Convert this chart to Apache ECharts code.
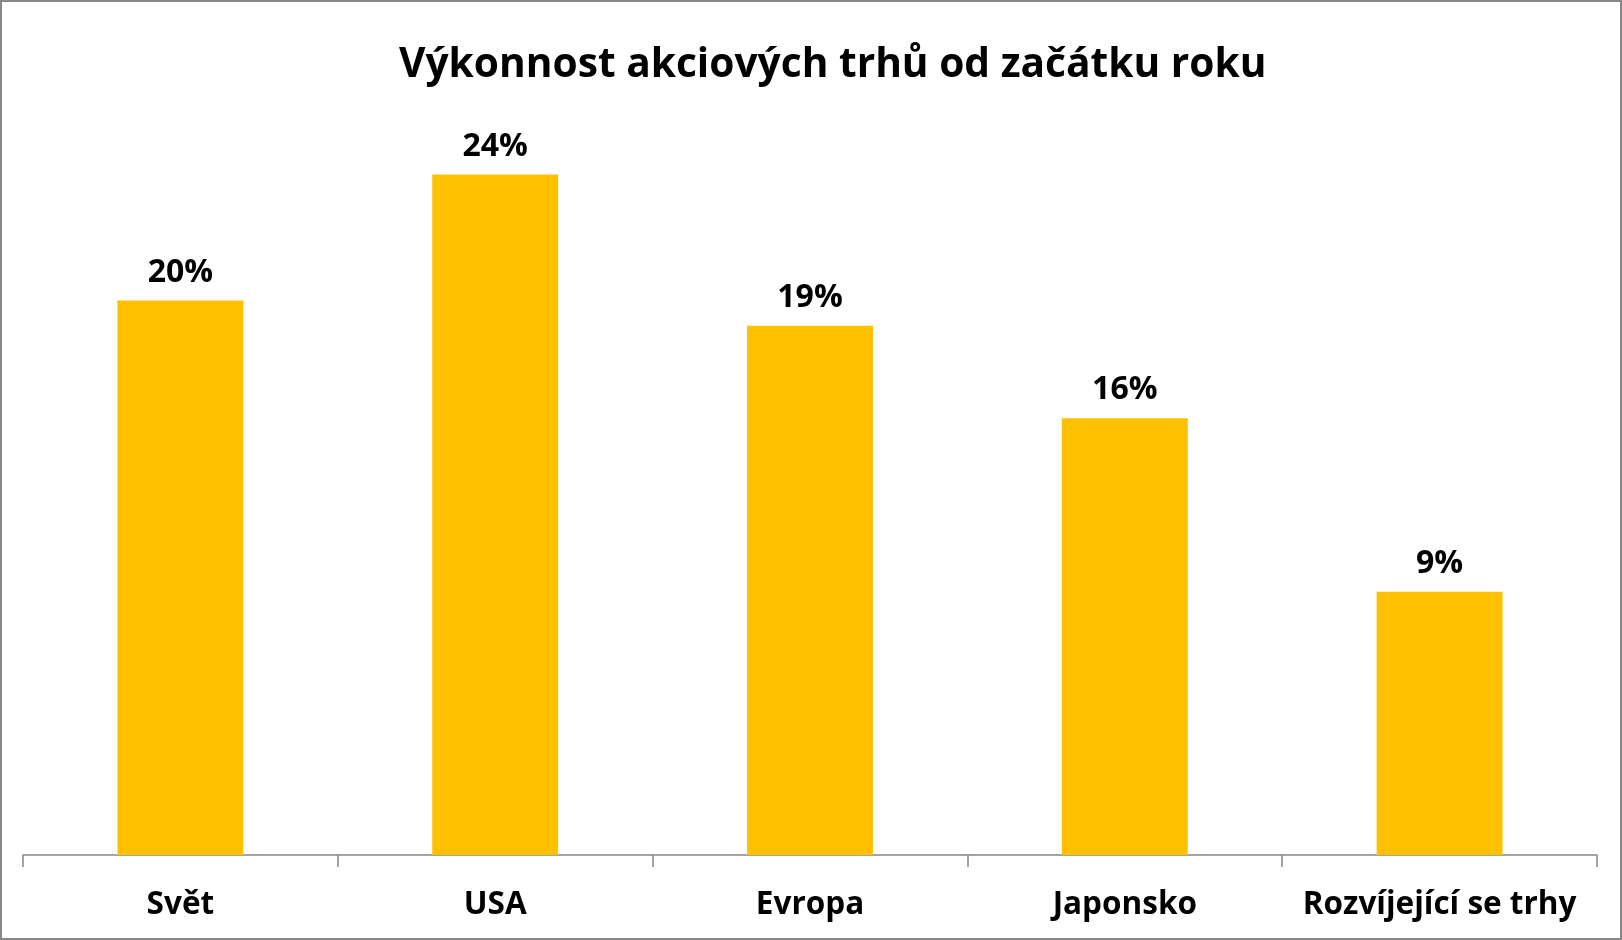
<!DOCTYPE html>
<html>
<head>
<meta charset="utf-8">
<script src="https://cdn.jsdelivr.net/npm/echarts@6/dist/echarts.min.js"></script>
<style>
html,body{margin:0;padding:0;background:#fff;}
#c{width:1622px;height:940px;box-sizing:border-box;border:2px solid #878787;}
</style>
</head>
<body>
<div id="c"></div>
<script>
const title = 'Výkonnost akciových trhů od začátku roku';
const categories = ['Svět', 'USA', 'Evropa', 'Japonsko', 'Rozvíjející se trhy'];
const values = [19.8, 24.3, 18.9, 15.6, 9.4];

const FONT = 'Open Sans';
const chart = echarts.init(document.getElementById('c'));
chart.setOption({
  backgroundColor: '#fff',
  animation: false,
  title: {
    text: title,
    left: 392,
    top: 38,
    textStyle: {fontFamily: FONT, fontWeight: 'bold', fontSize: 40.7, color: '#000'}
  },
  grid: {left: 21, right: 23, top: 153, bottom: 83, containLabel: false},
  xAxis: {
    type: 'category',
    data: categories,
    axisLine: {lineStyle: {color: '#868686', width: 1.5}},
    axisTick: {show: true, length: 12, lineStyle: {color: '#868686', width: 1.5}},
    axisLabel: {interval: 0, fontFamily: FONT, fontWeight: 'bold', fontSize: 31.5, color: '#000', margin: 34}
  },
  yAxis: {
    type: 'value', min: 0, max: 25, show: false,
    splitLine: {show: false}
  },
  series: [{
    type: 'bar',
    data: values,
    barWidth: '40%',
    itemStyle: {color: '#FFC000'},
    label: {
      show: true, position: 'top', distance: 12,
      fontFamily: FONT, fontWeight: 'bold', fontSize: 32, color: '#000',
      formatter: p => Math.round(p.value) + '%'
    }
  }]
});
</script>
</body>
</html>
